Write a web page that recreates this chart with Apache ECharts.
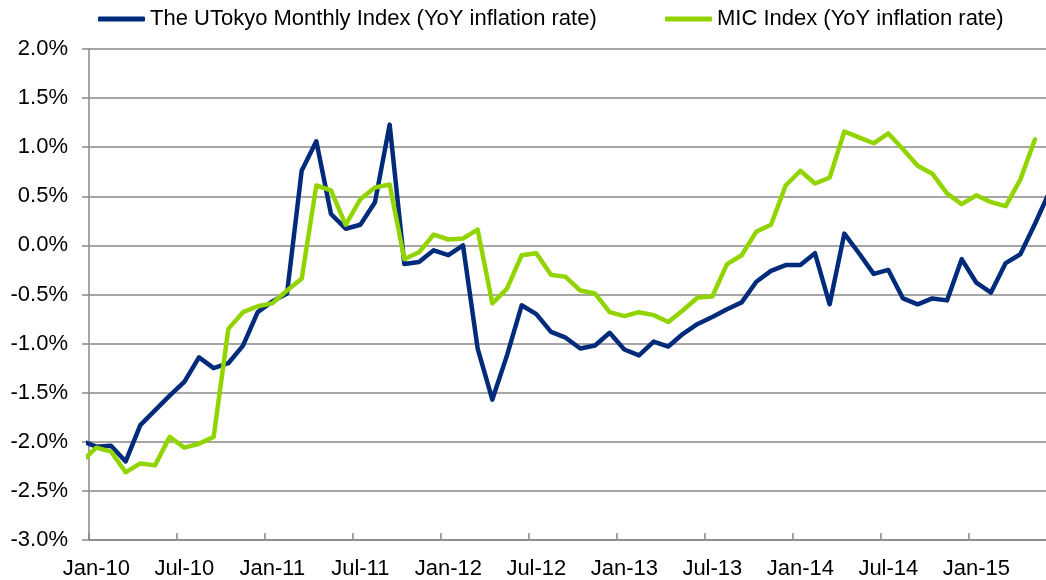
<!DOCTYPE html>
<html>
<head>
<meta charset="utf-8">
<title>UTokyo Monthly Index vs MIC Index</title>
<script src="https://cdn.jsdelivr.net/npm/echarts@6/dist/echarts.min.js"></script>
<style>
	html, body {
		margin: 0;
		padding: 0;
		background: #fff;
	}
	#chart {
		width: 1046px;
		height: 580px;
	}
</style>
</head>
<body>
<div id="chart"></div>
<script>
	// monthly values, first entry is Dec-09 (partly cut off by the axis)
	var tokyoName = 'The UTokyo Monthly Index (YoY inflation rate)'
	var micName = 'MIC Index (YoY inflation rate)'

	var tokyo = [-1.99,
		-2.05, -2.04, -2.20, -1.83, -1.68, -1.53, -1.39, -1.14, -1.25, -1.20, -1.02, -0.68,
		-0.57, -0.49, 0.76, 1.06, 0.32, 0.17, 0.21, 0.44, 1.23, -0.19, -0.17, -0.05,
		-0.10, 0.00, -1.05, -1.57, -1.12, -0.61, -0.70, -0.88, -0.94, -1.05, -1.02, -0.89,
		-1.06, -1.12, -0.98, -1.03, -0.90, -0.80, -0.73, -0.65, -0.58, -0.37, -0.26, -0.20,
		-0.20, -0.08, -0.60, 0.12, -0.08, -0.29, -0.25, -0.54, -0.60, -0.54, -0.56, -0.14,
		-0.38, -0.48, -0.18, -0.09, 0.22, 0.55]

	var mic = [-2.20,
		-2.06, -2.10, -2.31, -2.22, -2.24, -1.95, -2.06, -2.02, -1.95, -0.85, -0.68, -0.62,
		-0.59, -0.46, -0.34, 0.61, 0.56, 0.21, 0.47, 0.59, 0.62, -0.14, -0.07, 0.11,
		0.06, 0.07, 0.16, -0.59, -0.44, -0.10, -0.08, -0.30, -0.32, -0.46, -0.49, -0.68,
		-0.72, -0.68, -0.71, -0.78, -0.66, -0.53, -0.52, -0.19, -0.10, 0.14, 0.21, 0.61,
		0.76, 0.63, 0.69, 1.16, 1.10, 1.04, 1.14, 0.98, 0.81, 0.73, 0.53, 0.42,
		0.51, 0.44, 0.40, 0.67, 1.08]

	var xTickLabels = ['Jan-10', 'Jul-10', 'Jan-11', 'Jul-11', 'Jan-12', 'Jul-12',
		'Jan-13', 'Jul-13', 'Jan-14', 'Jul-14', 'Jan-15']

	// x = months since 1 Jan 2010, each point sits in the middle of its month
	function toPoints(arr) {
		return arr.map(function (v, i) {
			return [i - 0.5, v]
		})
	}

	var font = 'Liberation Sans, Arial, sans-serif'

	function legendAt(name, left) {
		return {
			data: [name],
			left: left,
			top: 8,
			padding: 0,
			icon: 'roundRect',
			itemWidth: 47,
			itemHeight: 5,
			itemGap: 0,
			textStyle: {
				fontSize: 22,
				color: '#000',
				fontFamily: font
			}
		}
	}

	var mychart = echarts.init(document.getElementById('chart'))
	mychart.setOption({
		animation: false,
		color: ['#002b7a', '#92d400'],
		textStyle: {
			fontFamily: font
		},
		legend: [legendAt(tokyoName, 98), legendAt(micName, 665)],
		grid: {
			left: 89,
			right: 0,
			top: 49,
			bottom: 38,
			containLabel: false
		},
		xAxis: {
			type: 'value',
			min: 0,
			max: 65.25,
			interval: 6,
			axisLine: {
				show: true,
				onZero: false,
				lineStyle: {
					color: '#888',
					width: 1.5
				}
			},
			axisTick: {
				show: true,
				inside: true,
				length: 7,
				lineStyle: {
					color: '#888',
					width: 1.5
				}
			},
			splitLine: {
				show: false
			},
			axisLabel: {
				showMaxLabel: false,
				fontSize: 22,
				color: '#000',
				fontFamily: font,
				margin: 18,
				padding: [0, 0, 0, 14.67],
				formatter: function (v) {
					var idx = Math.round(v / 6)
					return xTickLabels[idx] || ''
				}
			}
		},
		yAxis: {
			type: 'value',
			min: -3,
			max: 2,
			interval: 0.5,
			axisLine: {
				show: true,
				lineStyle: {
					color: '#888',
					width: 1.5
				}
			},
			axisTick: {
				show: true,
				length: 7,
				lineStyle: {
					color: '#888',
					width: 1.5
				}
			},
			splitLine: {
				show: true,
				lineStyle: {
					color: '#888',
					width: 1.5
				}
			},
			axisLabel: {
				fontSize: 22,
				color: '#000',
				fontFamily: font,
				margin: 21,
				formatter: function (v) {
					return v.toFixed(1) + '%'
				}
			}
		},
		series: [{
				name: tokyoName,
				type: 'line',
				symbol: 'none',
				showSymbol: false,
				clip: true,
				lineStyle: {
					width: 4.5,
					color: '#002b7a',
					join: 'round',
					cap: 'round'
				},
				data: toPoints(tokyo)
			},
			{
				name: micName,
				type: 'line',
				symbol: 'none',
				showSymbol: false,
				clip: true,
				lineStyle: {
					width: 4.5,
					color: '#92d400',
					join: 'round',
					cap: 'round'
				},
				data: toPoints(mic)
			}
		]
	})
</script>
</body>
</html>
